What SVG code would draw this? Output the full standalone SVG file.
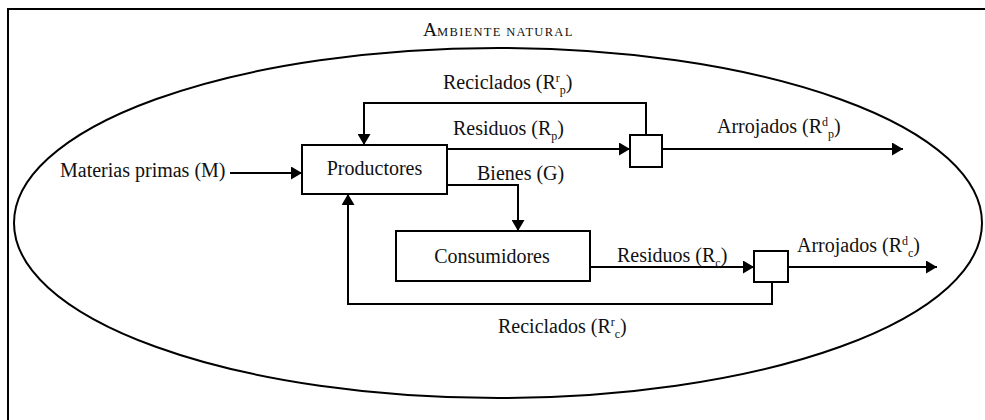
<svg xmlns="http://www.w3.org/2000/svg" width="985" height="420" viewBox="0 0 985 420">
<style>
  .t{font-family:"Liberation Serif","Times New Roman",serif;font-size:20px;fill:#111}
  .s{font-size:12px}
  .box{fill:#fff;stroke:#000;stroke-width:2}
  .c{fill:none;stroke:#000;stroke-width:2}
</style>
<defs>
  <marker id="ah" markerUnits="userSpaceOnUse" markerWidth="12" markerHeight="13" refX="11" refY="6.5" orient="auto">
    <path d="M0,0 L11,6.5 L0,13 z" fill="#000"/>
  </marker>
</defs>
<rect x="8" y="9" width="1000" height="430" fill="#fff" stroke="#000" stroke-width="2"/>
<g id="ambiente">
  <ellipse cx="498" cy="223" rx="484" ry="175" fill="none" stroke="#000" stroke-width="2"/>
  <text class="t" x="423" y="36"><tspan font-size="19.5">A</tspan><tspan font-size="12.5" letter-spacing="1.3">MBIENTE NATURAL</tspan></text>
</g>
<g id="connectors">
  <path class="c" d="M230,173 H302" marker-end="url(#ah)"/>
  <path class="c" d="M447,149 H630" marker-end="url(#ah)"/>
  <path class="c" d="M662,149 H903" marker-end="url(#ah)"/>
  <path class="c" d="M646,135 V103 H364 V145" marker-end="url(#ah)"/>
  <path class="c" d="M447,185 H518 V231" marker-end="url(#ah)"/>
  <path class="c" d="M587,267 H754" marker-end="url(#ah)"/>
  <path class="c" d="M788,267 H937" marker-end="url(#ah)"/>
  <path class="c" d="M772,282 V304 H348 V194" marker-end="url(#ah)"/>
</g>
<g id="labels">
  <text class="t" x="60" y="177">Materias primas (M)</text>
  <text class="t" x="443" y="89">Reciclados (R<tspan class="s" dy="-7">r</tspan><tspan class="s" dy="12">p</tspan><tspan dy="-5">)</tspan></text>
  <text class="t" x="453" y="135">Residuos (R<tspan class="s" dy="5">p</tspan><tspan dy="-5">)</tspan></text>
  <text class="t" x="477" y="180">Bienes (G)</text>
  <text class="t" x="717" y="133">Arrojados (R<tspan class="s" dy="-7">d</tspan><tspan class="s" dy="12">p</tspan><tspan dy="-5">)</tspan></text>
  <text class="t" x="617" y="262">Residuos (R<tspan class="s" dy="5">c</tspan><tspan dy="-5">)</tspan></text>
  <text class="t" x="797" y="252">Arrojados (R<tspan class="s" dy="-7">d</tspan><tspan class="s" dy="12">c</tspan><tspan dy="-5">)</tspan></text>
  <text class="t" x="498" y="333">Reciclados (R<tspan class="s" dy="-7">r</tspan><tspan class="s" dy="12">c</tspan><tspan dy="-5">)</tspan></text>
</g>
<g id="productores">
  <rect class="box" x="302" y="145" width="145" height="49"/>
  <text class="t" x="374.5" y="175" text-anchor="middle">Productores</text>
</g>
<g id="consumidores">
  <rect class="box" x="396" y="231" width="194" height="50"/>
  <text class="t" x="492" y="263" text-anchor="middle">Consumidores</text>
</g>
<g id="separador-p">
  <rect class="box" x="630" y="135" width="32" height="32"/>
</g>
<g id="separador-c">
  <rect class="box" x="754" y="251" width="34" height="31"/>
</g>
</svg>
